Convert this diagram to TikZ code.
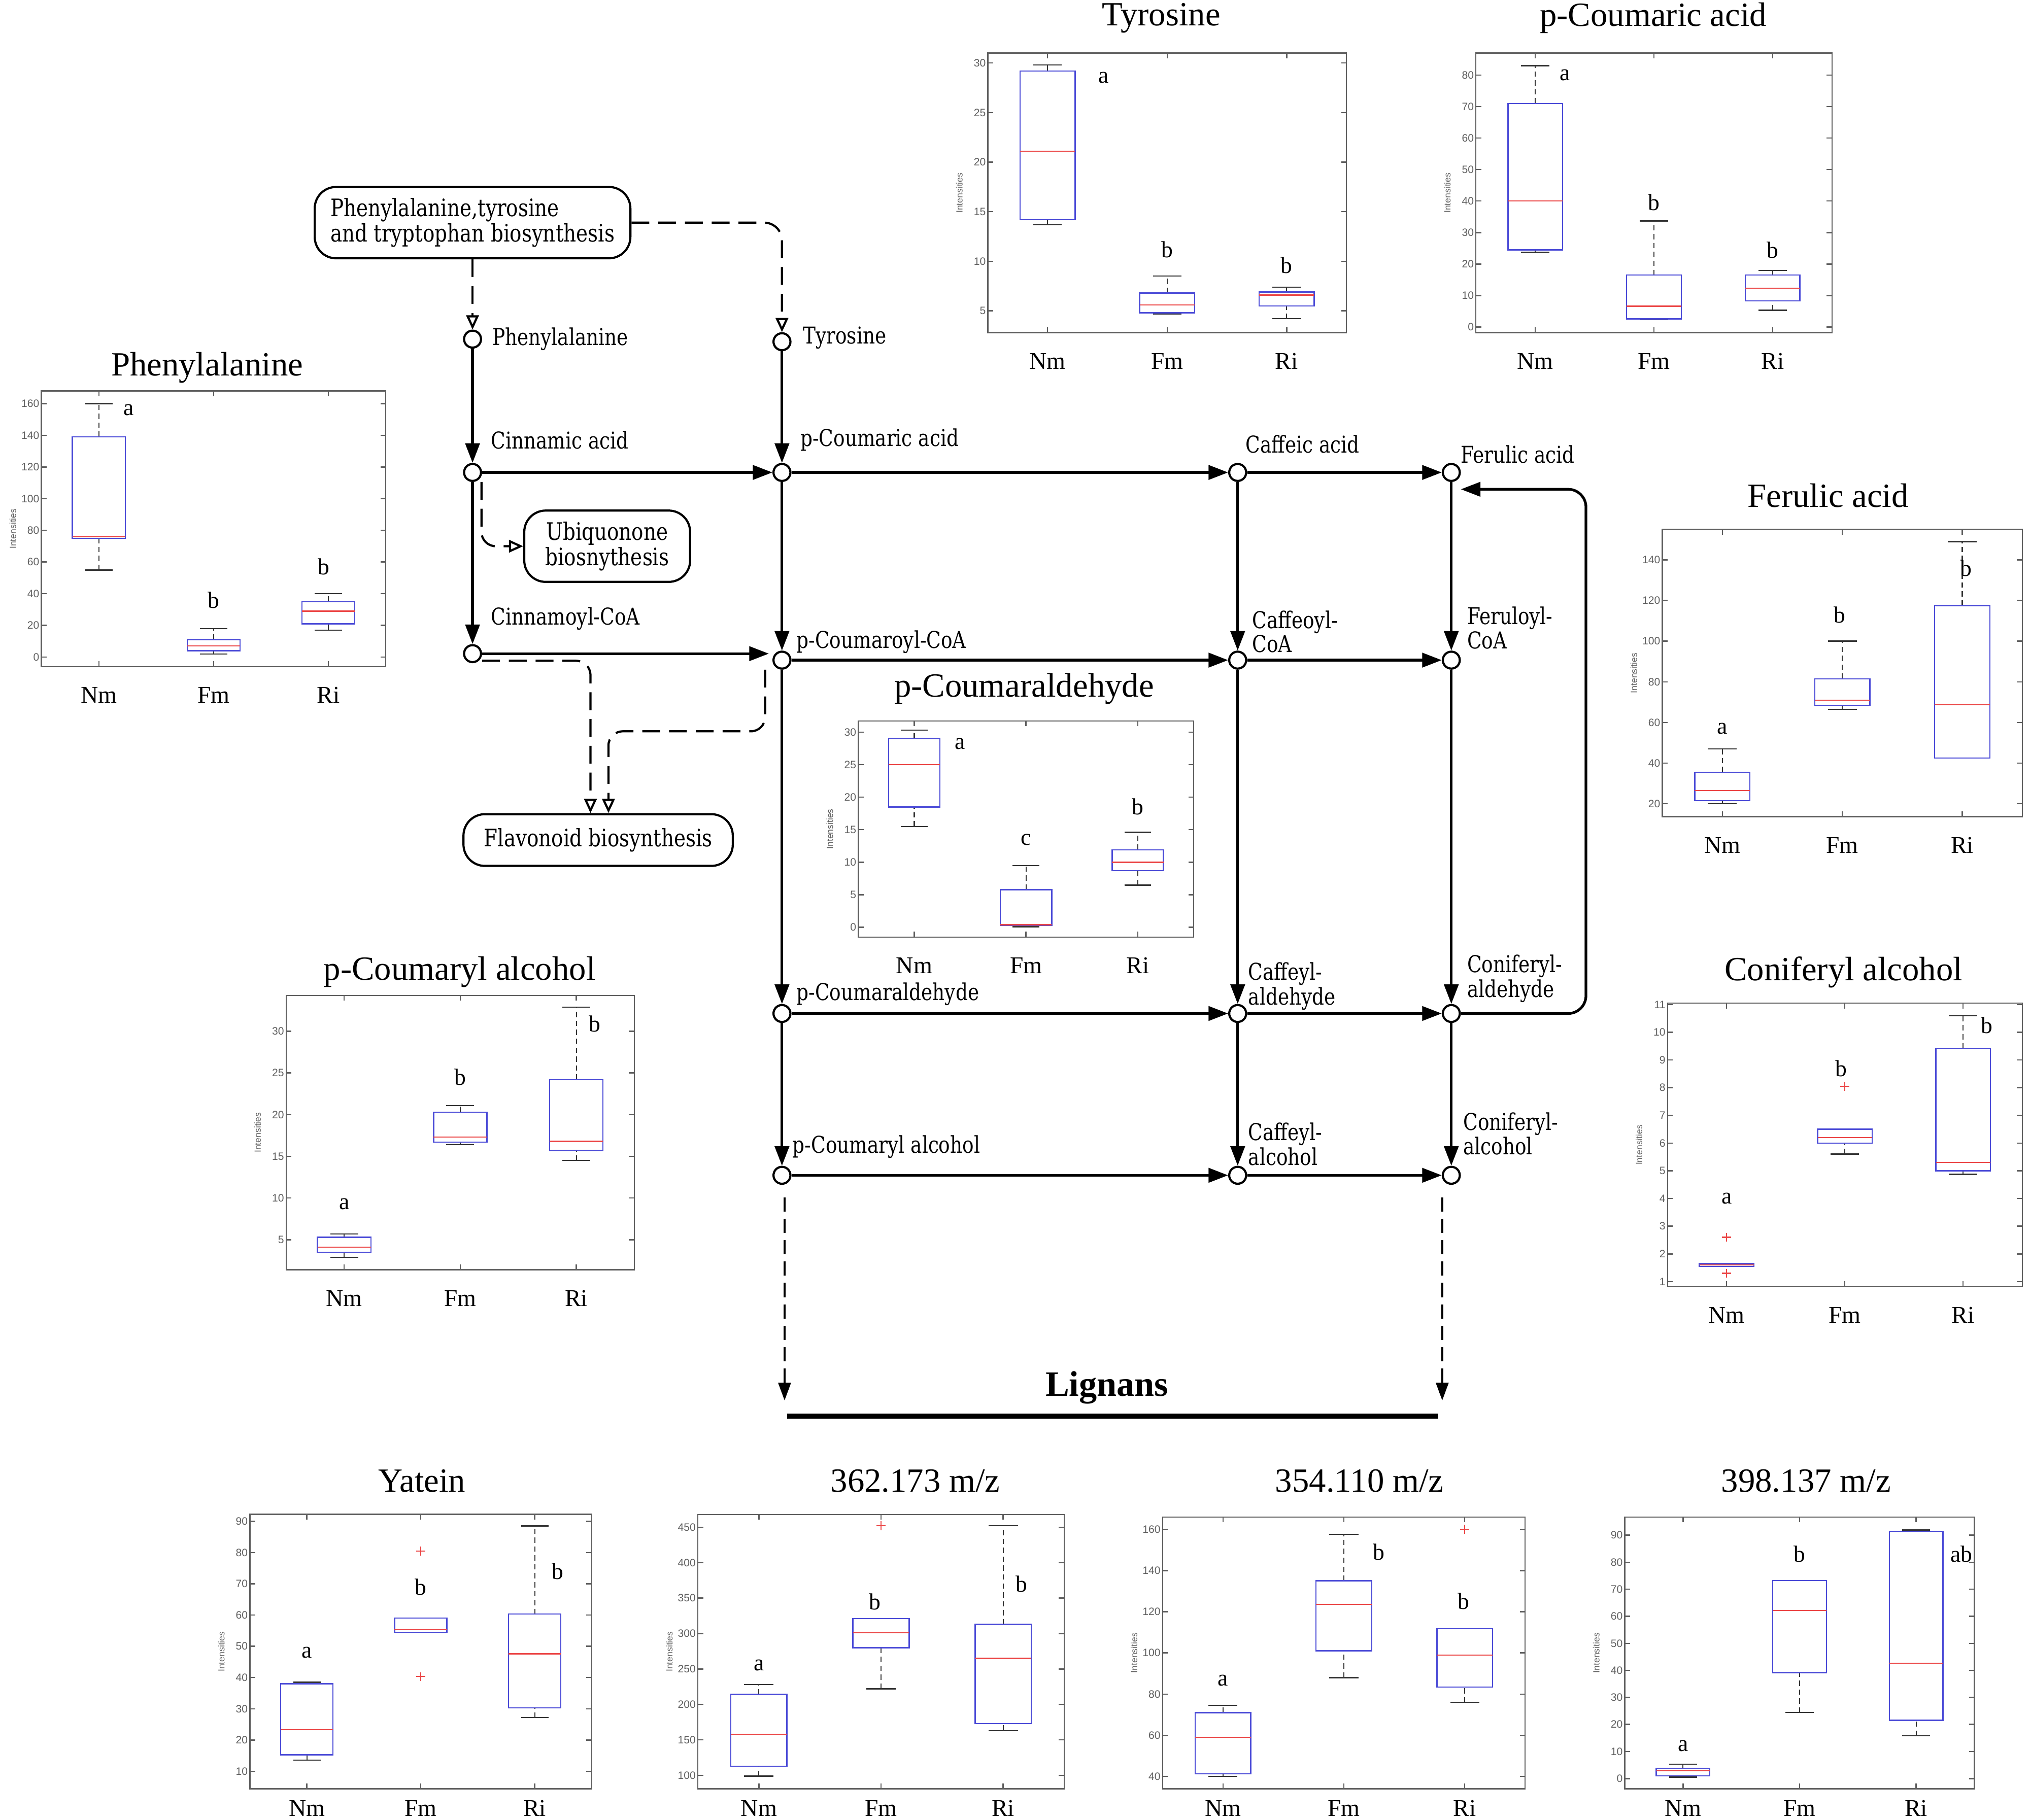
\documentclass[tikz,border=0pt]{standalone}
\usepackage{fontspec}
\setmainfont{Liberation Serif}
\newfontfamily\keggfont[FakeStretch=0.82]{DejaVu Serif}
\newfontfamily\axisfont{Liberation Sans}
\usetikzlibrary{arrows.meta,calc}

\definecolor{boxblue}{RGB}{75,75,215}
\definecolor{medred}{RGB}{235,70,70}
\definecolor{axgray}{RGB}{95,95,95}

\tikzset{
  plotat/.style n args={6}{shift={(#1,#2)},x={(#3*0.02551cm/3,0cm)},y={(0cm,#4*0.02551cm/(#6-(#5)))},shift={(-0.5,-(#5))}},
  frm/.style={draw=axgray, line width=0.7pt},
  whisk/.style={black!80, line width=0.6pt, dash pattern=on 3pt off 2pt},
  capl/.style={black!80, line width=0.7pt},
  boxl/.style={draw=boxblue, line width=0.7pt},
  medl/.style={draw=medred, line width=0.7pt},
  outl/.style={draw=medred, line width=0.6pt},
  tickl/.style={font=\axisfont\fontsize{6}{7}\selectfont, text=axgray, inner sep=1pt, anchor=east},
  ylab/.style={font=\axisfont\fontsize{5}{6}\selectfont, text=axgray, rotate=90},
  grp/.style={font=\fontsize{13.5}{15}\selectfont},
  ptitle/.style={font=\fontsize{19}{22}\selectfont},
  sig/.style={font=\fontsize{13}{15}\selectfont},
  cpd/.style={circle, draw, line width=1.2pt, fill=white, minimum size=9.5pt, inner sep=0pt},
  cname/.style={font=\keggfont\fontsize{13}{11.5}\selectfont, anchor=west, align=left, inner sep=0pt},
  mapbox/.style={draw, line width=1.2pt, rounded corners=12pt, font=\keggfont\fontsize{13.5}{12}\selectfont, inner sep=0pt},
  rxn/.style={line width=1.5pt, -{Triangle[length=11pt,width=8pt]}},
  mapl/.style={line width=1.2pt, dash pattern=on 10pt off 5pt, -{Triangle[open,length=8pt,width=7pt]}},
  toLig/.style={line width=1.2pt, dash pattern=on 8pt off 4pt, -{Triangle[length=10pt,width=7pt]}},
}

% frame of one box plot: name, ymin, ymax, ticks
\newcommand{\bpframe}[4]{%
  \draw[frm] (0.5,#2) rectangle (3.5,#3);
  \foreach \t in {#4}{
    \draw[frm] (0.5,\t) -- ++(3pt,0pt) (3.5,\t) -- ++(-3pt,0pt);
    \node[tickl] (#1y\t) at (0.5,\t) {\t};
  }
  \foreach \g/\gn in {1/Nm,2/Fm,3/Ri}{
    \draw[frm] (\g,#2) -- ++(0pt,3pt) (\g,#3) -- ++(0pt,-3pt);
    \node[grp] (#1\gn) at ([yshift=-\grpoff]\g,#2) {\gn};
  }
  \node[ylab] (#1yl) at ([xshift=-16pt]0.5,{(#2+#3)/2}) {Intensities};
}
% one box: x, low, q1, median, q3, high
\newcommand{\bpbox}[6]{%
  \draw[whisk] (#1,#2) -- (#1,#3) (#1,#5) -- (#1,#6);
  \draw[capl] (#1-0.12,#2) -- (#1+0.12,#2) (#1-0.12,#6) -- (#1+0.12,#6);
  \draw[boxl] (#1-0.23,#3) rectangle (#1+0.23,#5);
  \draw[medl] (#1-0.23,#4) -- (#1+0.23,#4);
}
\newcommand{\bpout}[2]{\draw[outl] (#1,#2) +(-2.5pt,0pt) -- +(2.5pt,0pt) +(0pt,-2.5pt) -- +(0pt,2.5pt);}
\def\grpoff{16pt}

\begin{document}
\begin{tikzpicture}[x=0.02551cm,y=-0.02551cm]
\path[use as bounding box, fill=white] (0,0) rectangle (1568,1406);

%% pathway
\node[mapbox, minimum width=177pt, minimum height=40pt, align=left] (mapAA) at (365,172) {Phenylalanine,tyrosine\\and tryptophan biosynthesis};
\node[mapbox, minimum width=93pt, minimum height=40pt, align=center] (ubi) at (469,422) {Ubiquonone\\biosnythesis};
\node[mapbox, minimum width=151pt, minimum height=29pt] (flav) at (462,649) {Flavonoid biosynthesis};

\node[cpd] (phe) at (365,262) {};
\node[cpd] (tyr) at (604,264) {};
\node[cpd] (cin) at (365,365) {};
\node[cpd] (pca) at (604,365) {};
\node[cpd] (caf) at (956,365) {};
\node[cpd] (fer) at (1121,365) {};
\node[cpd] (cinc) at (365,505) {};
\node[cpd] (pcoa) at (604,510) {};
\node[cpd] (cafc) at (956,510) {};
\node[cpd] (ferc) at (1121,510) {};
\node[cpd] (pald) at (604,783) {};
\node[cpd] (cafald) at (956,783) {};
\node[cpd] (conald) at (1121,783) {};
\node[cpd] (palc) at (604,908) {};
\node[cpd] (cafalc) at (956,908) {};
\node[cpd] (conalc) at (1121,908) {};

\node[cname] (pheL) at (380,262) {Phenylalanine};
\node[cname] (tyrL) at (620,261) {Tyrosine};
\node[cname] (cinL) at (379,340) {Cinnamic acid};
\node[cname] (pcaL) at (618,340) {p-Coumaric acid};
\node[cname] (cafL) at (962,343) {Caffeic acid};
\node[cname] (ferL) at (1128,351) {Ferulic acid};
\node[cname] (cincL) at (379,478) {Cinnamoyl-CoA};
\node[cname] (pcoaL) at (615,496) {p-Coumaroyl-CoA};
\node[cname] (cafcL) at (967,488) {Caffeoyl-\\CoA};
\node[cname] (fercL) at (1133,485) {Feruloyl-\\CoA};
\node[cname] (paldL) at (615,768) {p-Coumaraldehyde};
\node[cname] (cafaldL) at (964,762) {Caffeyl-\\aldehyde};
\node[cname] (conaldL) at (1133,756) {Coniferyl-\\aldehyde};
\node[cname] (palcL) at (612,886) {p-Coumaryl alcohol};
\node[cname] (cafalcL) at (964,884) {Caffeyl-\\alcohol};
\node[cname] (conalcL) at (1130,876) {Coniferyl-\\alcohol};

\coordinate (fl2) at (591,565);
\coordinate (fbk) at (1225,378);
\coordinate (lgL) at (606,1082);
\coordinate (lgR) at (1114,1082);
\coordinate (barL) at (608,1094);
\coordinate (barR) at (1111,1094);

\draw[mapl] (mapAA.south) -- (phe);
\draw[mapl, rounded corners=10pt] (mapAA.east) -| (tyr);
\draw[rxn] (phe) -- (cin);
\draw[rxn] (tyr) -- (pca);
\draw[rxn] (cin) -- (pca);
\draw[rxn] (pca) -- (caf);
\draw[rxn] (caf) -- (fer);
\draw[rxn] (cin) -- (cinc);
\draw[mapl, rounded corners=8pt] ([xshift=5pt]cin.south) |- (ubi.west);
\draw[rxn] (pca) -- (pcoa);
\draw[rxn] (caf) -- (cafc);
\draw[rxn] (fer) -- (ferc);
\draw[rxn] (cinc.east) -- ([xshift=-2pt]cinc.east -| pcoa.west);
\draw[mapl, rounded corners=8pt] ([yshift=-4pt]cinc.east) -| ([xshift=-4.3pt]flav.north);
\draw[mapl, rounded corners=8pt] (pcoa.south -| fl2) -- (fl2) -| ([xshift=5.8pt]flav.north);
\draw[rxn] (pcoa) -- (cafc);
\draw[rxn] (cafc) -- (ferc);
\draw[rxn] (pcoa) -- (pald);
\draw[rxn] (cafc) -- (cafald);
\draw[rxn] (ferc) -- (conald);
\draw[rxn] (pald) -- (cafald);
\draw[rxn] (cafald) -- (conald);
\draw[rxn] (pald) -- (palc);
\draw[rxn] (cafald) -- (cafalc);
\draw[rxn] (conald) -- (conalc);
\draw[rxn] (palc) -- (cafalc);
\draw[rxn] (cafalc) -- (conalc);
\draw[rxn, rounded corners=10pt] (conald.east) -| (fbk) -- (fbk -| fer.east);
\draw[toLig, shorten <=7pt] (palc.south -| lgL) -- (lgL);
\draw[toLig, shorten <=7pt] (conalc.south -| lgR) -- (lgR);
\node[font=\bfseries\fontsize{20}{24}\selectfont] (lig) at (855,1072) {Lignans};
\draw[line width=3pt] (barL) -- (barR);

%% plot titles
\node[ptitle] (tPhe) at (160,284) {Phenylalanine};
\node[ptitle] (tTyr) at (897,14) {Tyrosine};
\node[ptitle] (tPca) at (1277,14) {p-Coumaric acid};
\node[ptitle] (tFer) at (1412,383) {Ferulic acid};
\node[ptitle] (tPald) at (791,532) {p-Coumaraldehyde};
\node[ptitle] (tPalc) at (355,751) {p-Coumaryl alcohol};
\node[ptitle] (tCalc) at (1424,751) {Coniferyl alcohol};
\node[ptitle] (tYat) at (326,1144) {Yatein};
\node[ptitle] (tMa) at (707,1144) {362.173 m/z};
\node[ptitle] (tMb) at (1050,1144) {354.110 m/z};
\node[ptitle] (tMc) at (1395,1144) {398.137 m/z};

%% Phenylalanine
\begin{scope}[plotat={32}{515}{266}{213}{-6}{168}]
  \bpframe{gPhe}{-6}{168}{0,20,...,160}
  \bpbox{1}{55}{75}{76}{139}{160}
  \bpbox{2}{2}{4}{7}{11}{18}
  \bpbox{3}{17}{21}{29}{35}{40}
  \node[sig] (gPheA) at (1.26,156) {a};
  \node[sig] (gPheB) at (2,36) {b};
  \node[sig] (gPheC) at (2.96,57) {b};
\end{scope}

%% Tyrosine
\begin{scope}[plotat={763}{257}{277}{216}{2.8}{31}]
  \bpframe{gTyr}{2.8}{31}{5,10,...,30}
  \bpbox{1}{13.7}{14.2}{21.1}{29.2}{29.8}
  \bpbox{2}{4.7}{4.8}{5.6}{6.8}{8.5}
  \bpbox{3}{4.2}{5.5}{6.6}{6.9}{7.4}
  \node[sig] (gTyrA) at (1.47,28.5) {a};
  \node[sig] (gTyrB) at (2,11.2) {b};
  \node[sig] (gTyrC) at (3,9.6) {b};
\end{scope}

%% p-Coumaric acid
\begin{scope}[plotat={1140}{257}{275}{216}{-1.8}{87}]
  \bpframe{gPca}{-1.8}{87}{0,10,...,80}
  \bpbox{1}{23.7}{24.5}{40}{71}{83}
  \bpbox{2}{2.3}{2.6}{6.6}{16.5}{33.7}
  \bpbox{3}{5.3}{8.3}{12.3}{16.5}{18}
  \node[sig] (gPcaA) at (1.25,80) {a};
  \node[sig] (gPcaB) at (2,39.5) {b};
  \node[sig] (gPcaC) at (3,24.5) {b};
\end{scope}

%% Ferulic acid
\begin{scope}[plotat={1284}{631}{278}{222}{13.6}{155}]
  \bpframe{gFer}{13.6}{155}{20,40,...,140}
  \bpbox{1}{20}{21.5}{26.5}{35.5}{47}
  \bpbox{2}{66.5}{68.5}{71}{81.5}{100}
  \bpbox{3}{42.5}{42.5}{68.7}{117.5}{149}
  \node[sig] (gFerA) at (1,57) {a};
  \node[sig] (gFerB) at (1.98,113) {b};
  \node[sig] (gFerC) at (3.03,136) {b};
\end{scope}

%% p-Coumaraldehyde
\begin{scope}[plotat={663}{724}{259}{167}{-1.5}{31.7}]
  \bpframe{gPald}{-1.5}{31.7}{0,5,...,30}
  \bpbox{1}{15.5}{18.5}{25}{29}{30.3}
  \bpbox{2}{0.1}{0.3}{0.4}{5.8}{9.5}
  \bpbox{3}{6.5}{8.7}{10}{11.9}{14.6}
  \node[sig] (gPaldA) at (1.41,28.2) {a};
  \node[sig] (gPaldB) at (2,13.5) {c};
  \node[sig] (gPaldC) at (3,18.5) {b};
\end{scope}

%% p-Coumaryl alcohol
\begin{scope}[plotat={221}{981}{269}{212}{1.4}{34.3}]
  \bpframe{gPalc}{1.4}{34.3}{5,10,...,30}
  \bpbox{1}{2.9}{3.5}{4.1}{5.3}{5.7}
  \bpbox{2}{16.4}{16.7}{17.3}{20.3}{21.1}
  \bpbox{3}{14.5}{15.7}{16.8}{24.2}{32.9}
  \node[sig] (gPalcA) at (1,9.3) {a};
  \node[sig] (gPalcB) at (2,24.5) {b};
  \node[sig] (gPalcC) at (3.16,30.9) {b};
\end{scope}

%% Coniferyl alcohol
\begin{scope}[plotat={1288}{994}{274}{219}{0.82}{11.05}]
  \bpframe{gCalc}{0.82}{11.05}{1,2,...,11}
  \bpbox{1}{1.55}{1.55}{1.6}{1.65}{1.65}
  \bpbox{2}{5.6}{6.0}{6.2}{6.5}{6.5}
  \bpbox{3}{4.87}{5.0}{5.3}{9.42}{10.6}
  \bpout{1}{2.6}
  \bpout{1}{1.3}
  \bpout{2}{8.05}
  \node[sig] (gCalcA) at (1,4.0) {a};
  \node[sig] (gCalcB) at (1.97,8.7) {b};
  \node[sig] (gCalcC) at (3.2,10.25) {b};
\end{scope}

\def\grpoff{11pt}
%% Yatein
\begin{scope}[plotat={193}{1382}{264}{212}{4.4}{92.2}]
  \bpframe{gYat}{4.4}{92.2}{10,20,...,90}
  \bpbox{1}{13.6}{15.3}{23.3}{38}{38.5}
  \bpbox{2}{54.5}{54.5}{55.3}{59}{59}
  \bpbox{3}{27.2}{30.3}{47.6}{60.3}{88.5}
  \bpout{2}{80.5}
  \bpout{2}{40.3}
  \node[sig] (gYatA) at (1,48) {a};
  \node[sig] (gYatB) at (2,69) {b};
  \node[sig] (gYatC) at (3.2,74) {b};
\end{scope}

%% 362.173 m/z
\begin{scope}[plotat={539}{1382}{283}{212}{81}{468}]
  \bpframe{gMa}{81}{468}{100,150,...,450}
  \bpbox{1}{99}{113}{158}{214}{228}
  \bpbox{2}{222}{280}{301}{321}{321}
  \bpbox{3}{163}{173}{265}{313}{452}
  \bpout{2}{452}
  \node[sig] (gMaA) at (1,255) {a};
  \node[sig] (gMaB) at (1.95,345) {b};
  \node[sig] (gMaC) at (3.15,370) {b};
\end{scope}

%% 354.110 m/z
\begin{scope}[plotat={898}{1382}{280}{210}{34}{166}]
  \bpframe{gMb}{34}{166}{40,60,...,160}
  \bpbox{1}{40}{41.3}{59}{71}{74.6}
  \bpbox{2}{88}{101}{123.6}{135}{157.6}
  \bpbox{3}{76}{83.4}{99}{111.7}{111.7}
  \bpout{3}{160}
  \node[sig] (gMbA) at (1,86.5) {a};
  \node[sig] (gMbB) at (2.29,149) {b};
  \node[sig] (gMbC) at (2.99,125) {b};
\end{scope}

%% 398.137 m/z
\begin{scope}[plotat={1255}{1382}{270}{210}{-3.8}{96.7}]
  \bpframe{gMc}{-3.8}{96.7}{0,10,...,90}
  \bpbox{1}{0.5}{1}{3}{3.8}{5.3}
  \bpbox{2}{24.4}{39.2}{62.2}{73.2}{73.2}
  \bpbox{3}{15.8}{21.5}{42.6}{91.4}{91.9}
  \node[sig] (gMcA) at (1,12) {a};
  \node[sig] (gMcB) at (2,83) {b};
  \node[sig] (gMcC) at (3.39,83) {ab};
\end{scope}
\end{tikzpicture}
\end{document}
